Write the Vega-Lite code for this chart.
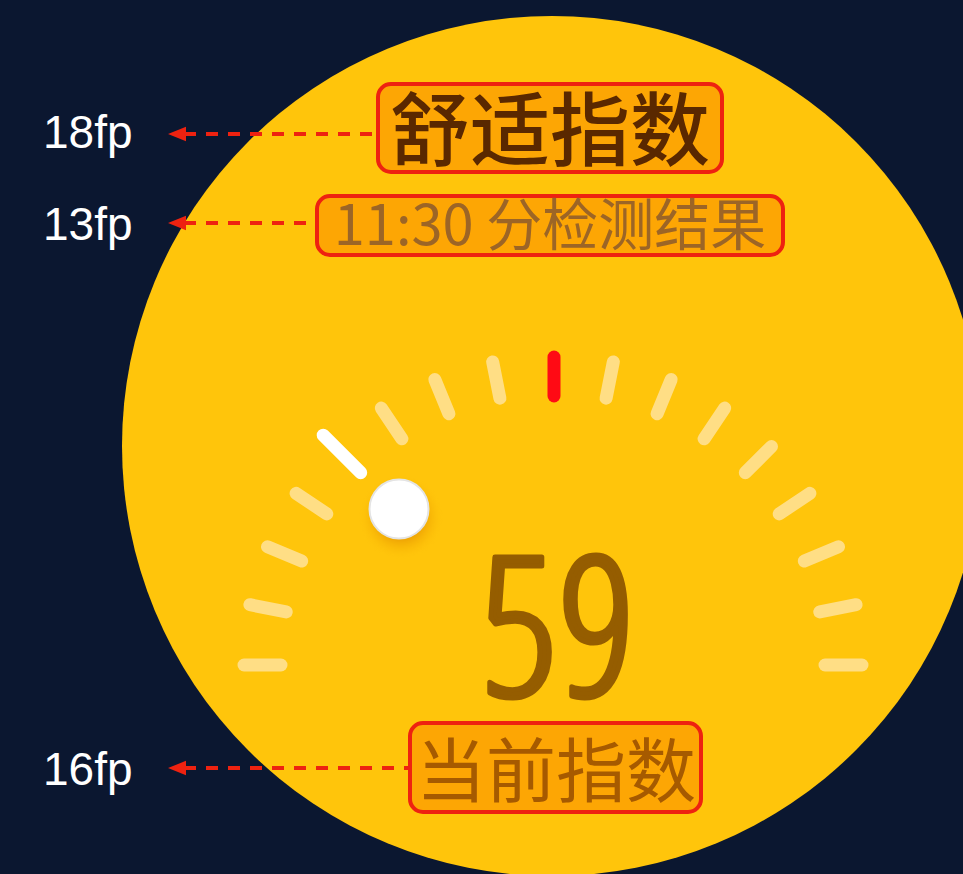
{
  "$schema": "https://vega.github.io/schema/vega-lite/v6.json",
  "width": 963,
  "height": 874,
  "autosize": {"type": "none"},
  "padding": 0,
  "background": "#0B1730",
  "config": {"view": {"stroke": null}},
  "datasets": {
    "disc": [{"x": 552, "y": 446}],
    "ticks": [
      {"x": 281, "y": 665, "x2": 244, "y2": 665, "kind": "scale"},
      {"x": 286.2, "y": 611.9, "x2": 249.9, "y2": 604.7, "kind": "scale"},
      {"x": 301.7, "y": 560.9, "x2": 267.5, "y2": 546.7, "kind": "scale"},
      {"x": 326.8, "y": 513.9, "x2": 296.1, "y2": 493.3, "kind": "scale"},
      {"x": 360.7, "y": 472.7, "x2": 323.2, "y2": 435.2, "kind": "current"},
      {"x": 401.9, "y": 438.8, "x2": 381.3, "y2": 408.1, "kind": "scale"},
      {"x": 448.9, "y": 413.7, "x2": 434.8, "y2": 379.5, "kind": "scale"},
      {"x": 499.9, "y": 398.2, "x2": 492.7, "y2": 361.9, "kind": "scale"},
      {"x": 554, "y": 396, "x2": 554, "y2": 357, "kind": "mid"},
      {"x": 606.1, "y": 398.2, "x2": 613.3, "y2": 361.9, "kind": "scale"},
      {"x": 657.1, "y": 413.7, "x2": 671.2, "y2": 379.5, "kind": "scale"},
      {"x": 704.1, "y": 438.8, "x2": 724.7, "y2": 408.1, "kind": "scale"},
      {"x": 745.3, "y": 472.7, "x2": 771.5, "y2": 446.5, "kind": "scale"},
      {"x": 779.2, "y": 513.9, "x2": 809.9, "y2": 493.3, "kind": "scale"},
      {"x": 804.3, "y": 560.9, "x2": 838.5, "y2": 546.7, "kind": "scale"},
      {"x": 819.8, "y": 611.9, "x2": 856.1, "y2": 604.7, "kind": "scale"},
      {"x": 825, "y": 665, "x2": 862, "y2": 665, "kind": "scale"}
    ],
    "knob": [{"x": 399, "y": 509}],
    "knobShadow": [{"x": 401, "y": 517}],
    "value": [{"x": 558, "y": 696, "value": "59"}],
    "boxes": [
      {"x": 378, "x2": 722, "y": 84, "y2": 172},
      {"x": 317, "x2": 783, "y": 196, "y2": 255},
      {"x": 410, "x2": 701, "y": 723, "y2": 812}
    ],
    "title": [{"x": 550, "y": 159, "text": "舒适指数"}],
    "subtitle": [{"x": 550, "y": 245, "text": "11:30 分检测结果"}],
    "caption": [{"x": 556, "y": 797, "text": "当前指数"}],
    "arrows": [
      {"x": 184, "x2": 378, "y": 134},
      {"x": 184, "x2": 317, "y": 223},
      {"x": 184, "x2": 410, "y": 768}
    ],
    "heads": [
      {"x": 177, "y": 134},
      {"x": 177, "y": 223},
      {"x": 177, "y": 768}
    ],
    "labels": [
      {"x": 43, "y": 148, "label": "18fp"},
      {"x": 43, "y": 240, "label": "13fp"},
      {"x": 43, "y": 785, "label": "16fp"}
    ]
  },
  "layer": [
    {
      "data": {"name": "disc"},
      "mark": {"type": "point", "filled": true, "shape": "circle", "size": 739600, "fill": "#FFC50B", "opacity": 1, "strokeWidth": 0},
      "encoding": {
        "x": {"field": "x", "type": "quantitative", "scale": {"domain": [0, 963], "nice": false, "zero": false}, "axis": null},
        "y": {"field": "y", "type": "quantitative", "scale": {"domain": [0, 874], "nice": false, "zero": false, "reverse": true}, "axis": null}
      }
    },
    {
      "data": {"name": "ticks"},
      "mark": {"type": "rule", "strokeWidth": 13, "strokeCap": "round"},
      "encoding": {
        "x": {"field": "x", "type": "quantitative", "scale": {"domain": [0, 963], "nice": false, "zero": false}, "axis": null},
        "y": {"field": "y", "type": "quantitative", "scale": {"domain": [0, 874], "nice": false, "zero": false, "reverse": true}, "axis": null},
        "x2": {"field": "x2"},
        "y2": {"field": "y2"},
        "color": {"field": "kind", "type": "nominal", "scale": {"domain": ["scale", "current", "mid"], "range": ["#FFDE85", "#FFFFFF", "#FF0A14"]}, "legend": null}
      }
    },
    {
      "data": {"name": "knobShadow"},
      "mark": {"type": "point", "filled": true, "shape": "circle", "size": 7400, "strokeWidth": 0, "opacity": 1,
        "fill": {"gradient": "radial", "stops": [
          {"offset": 0.5, "color": "rgba(226,140,0,0.6)"},
          {"offset": 0.75, "color": "rgba(240,165,0,0.28)"},
          {"offset": 1, "color": "rgba(255,197,11,0)"}
        ]}},
      "encoding": {
        "x": {"field": "x", "type": "quantitative", "scale": {"domain": [0, 963], "nice": false, "zero": false}, "axis": null},
        "y": {"field": "y", "type": "quantitative", "scale": {"domain": [0, 874], "nice": false, "zero": false, "reverse": true}, "axis": null}
      }
    },
    {
      "data": {"name": "knob"},
      "mark": {"type": "point", "filled": true, "shape": "circle", "size": 3481, "fill": "#FFFFFF", "stroke": "#E4E4E4", "strokeWidth": 2, "opacity": 1},
      "encoding": {
        "x": {"field": "x", "type": "quantitative", "scale": {"domain": [0, 963], "nice": false, "zero": false}, "axis": null},
        "y": {"field": "y", "type": "quantitative", "scale": {"domain": [0, 874], "nice": false, "zero": false, "reverse": true}, "axis": null}
      }
    },
    {
      "data": {"name": "value"},
      "mark": {"type": "text", "font": "Open Sans Condensed Light, Noto Sans Condensed, Liberation Sans Narrow, Open Sans Condensed", "fontSize": 194, "fontWeight": "normal", "fill": "#955D00", "stroke": "#955D00", "strokeWidth": 5, "strokeJoin": "round", "align": "center", "baseline": "alphabetic"},
      "encoding": {
        "x": {"field": "x", "type": "quantitative", "scale": {"domain": [0, 963], "nice": false, "zero": false}, "axis": null},
        "y": {"field": "y", "type": "quantitative", "scale": {"domain": [0, 874], "nice": false, "zero": false, "reverse": true}, "axis": null},
        "text": {"field": "value"}
      }
    },
    {
      "data": {"name": "boxes"},
      "mark": {"type": "rect", "fill": "#FDA604", "stroke": "#EE2210", "strokeWidth": 4, "cornerRadius": 13},
      "encoding": {
        "x": {"field": "x", "type": "quantitative", "scale": {"domain": [0, 963], "nice": false, "zero": false}, "axis": null},
        "y": {"field": "y", "type": "quantitative", "scale": {"domain": [0, 874], "nice": false, "zero": false, "reverse": true}, "axis": null},
        "x2": {"field": "x2"},
        "y2": {"field": "y2"}
      }
    },
    {
      "data": {"name": "title"},
      "mark": {"type": "text", "font": "Noto Sans CJK SC", "fontSize": 80, "fontWeight": 500, "color": "#5A2800", "align": "center", "baseline": "alphabetic"},
      "encoding": {
        "x": {"field": "x", "type": "quantitative", "scale": {"domain": [0, 963], "nice": false, "zero": false}, "axis": null},
        "y": {"field": "y", "type": "quantitative", "scale": {"domain": [0, 874], "nice": false, "zero": false, "reverse": true}, "axis": null},
        "text": {"field": "text"}
      }
    },
    {
      "data": {"name": "subtitle"},
      "mark": {"type": "text", "font": "Noto Sans CJK SC", "fontSize": 56, "fontWeight": "normal", "color": "#9C6526", "align": "center", "baseline": "alphabetic"},
      "encoding": {
        "x": {"field": "x", "type": "quantitative", "scale": {"domain": [0, 963], "nice": false, "zero": false}, "axis": null},
        "y": {"field": "y", "type": "quantitative", "scale": {"domain": [0, 874], "nice": false, "zero": false, "reverse": true}, "axis": null},
        "text": {"field": "text"}
      }
    },
    {
      "data": {"name": "caption"},
      "mark": {"type": "text", "font": "Noto Sans CJK SC", "fontSize": 70, "fontWeight": "normal", "color": "#A65A00", "align": "center", "baseline": "alphabetic"},
      "encoding": {
        "x": {"field": "x", "type": "quantitative", "scale": {"domain": [0, 963], "nice": false, "zero": false}, "axis": null},
        "y": {"field": "y", "type": "quantitative", "scale": {"domain": [0, 874], "nice": false, "zero": false, "reverse": true}, "axis": null},
        "text": {"field": "text"}
      }
    },
    {
      "data": {"name": "arrows"},
      "mark": {"type": "rule", "stroke": "#EE2210", "strokeWidth": 4, "strokeDash": [12, 10]},
      "encoding": {
        "x": {"field": "x", "type": "quantitative", "scale": {"domain": [0, 963], "nice": false, "zero": false}, "axis": null},
        "y": {"field": "y", "type": "quantitative", "scale": {"domain": [0, 874], "nice": false, "zero": false, "reverse": true}, "axis": null},
        "x2": {"field": "x2"}
      }
    },
    {
      "data": {"name": "heads"},
      "mark": {"type": "point", "filled": true, "shape": "M-1,0L1,-0.8L1,0.8Z", "size": 324, "fill": "#EE2210", "strokeWidth": 0, "opacity": 1},
      "encoding": {
        "x": {"field": "x", "type": "quantitative", "scale": {"domain": [0, 963], "nice": false, "zero": false}, "axis": null},
        "y": {"field": "y", "type": "quantitative", "scale": {"domain": [0, 874], "nice": false, "zero": false, "reverse": true}, "axis": null}
      }
    },
    {
      "data": {"name": "labels"},
      "mark": {"type": "text", "font": "Liberation Sans", "fontSize": 46, "color": "#FFFFFF", "align": "left", "baseline": "alphabetic"},
      "encoding": {
        "x": {"field": "x", "type": "quantitative", "scale": {"domain": [0, 963], "nice": false, "zero": false}, "axis": null},
        "y": {"field": "y", "type": "quantitative", "scale": {"domain": [0, 874], "nice": false, "zero": false, "reverse": true}, "axis": null},
        "text": {"field": "label"}
      }
    }
  ]
}
